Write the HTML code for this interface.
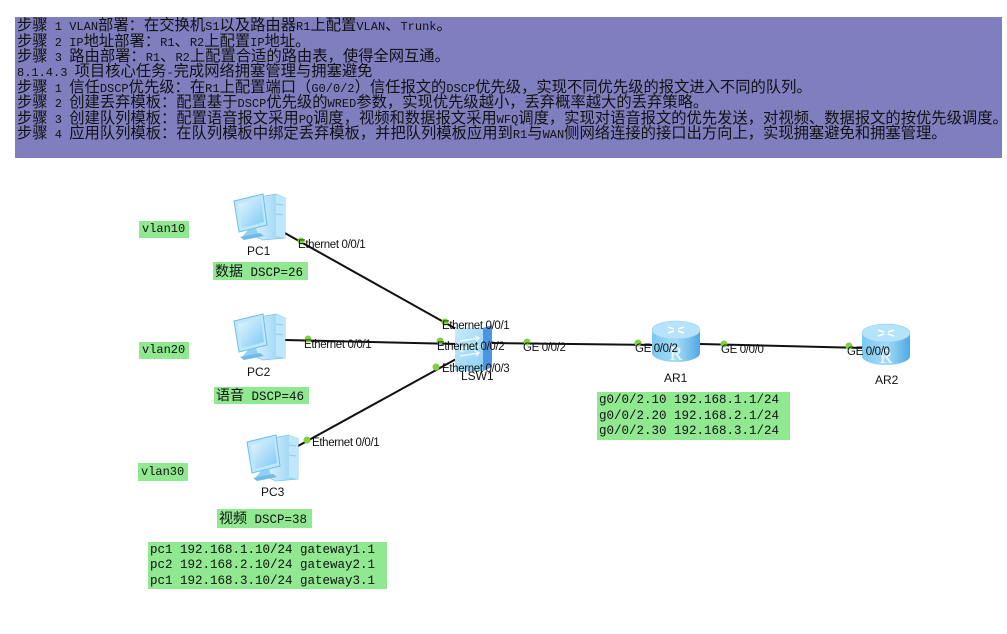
<!DOCTYPE html>
<html>
<head>
<meta charset="utf-8">
<style>
  html,body{margin:0;padding:0;background:#fff;}
  body{width:1007px;height:634px;position:relative;overflow:hidden;font-family:"Liberation Sans","Noto Sans CJK SC",sans-serif;}
  .hdr{position:absolute;left:15px;top:17px;width:987px;height:141px;background:#7f7fbf;}
  .htxt{position:absolute;left:17px;top:18.3px;font-family:"Liberation Sans","Noto Sans CJK SC",sans-serif;font-size:15.3px;color:#111;white-space:nowrap;}
  .htxt div{height:15.4px;line-height:15.4px;overflow:visible;}
  .htxt .l{font-family:"Liberation Mono",monospace;font-size:12px;line-height:15.4px;}
  .g{position:absolute;background:#90e890;font-family:"Liberation Mono",monospace;color:#111;white-space:nowrap;}
  .lbl{position:absolute;font-family:"Liberation Sans",sans-serif;font-size:11.5px;letter-spacing:-0.35px;color:#111;white-space:nowrap;line-height:12px;}
  .dev{position:absolute;font-family:"Liberation Sans",sans-serif;font-size:12px;color:#111;white-space:nowrap;line-height:13px;}
  .cj{font-family:"Liberation Sans","Noto Sans CJK SC",sans-serif;font-size:14px;}
</style>
</head>
<body>
<div class="hdr"></div>
<div class="htxt">
<div>步骤<span class="l"> 1 VLAN</span>部署：在交换机<span class="l">S1</span>以及路由器<span class="l">R1</span>上配置<span class="l">VLAN</span>、<span class="l">Trunk</span>。</div>
<div>步骤<span class="l"> 2 IP</span>地址部署：<span class="l">R1</span>、<span class="l">R2</span>上配置<span class="l">IP</span>地址。</div>
<div>步骤<span class="l"> 3 </span>路由部署：<span class="l">R1</span>、<span class="l">R2</span>上配置合适的路由表，使得全网互通。</div>
<div><span class="l">8.1.4.3 </span>项目核心任务<span class="l">-</span>完成网络拥塞管理与拥塞避免</div>
<div>步骤<span class="l"> 1 </span>信任<span class="l">DSCP</span>优先级：在<span class="l">R1</span>上配置端口（<span class="l">G0/0/2</span>）信任报文的<span class="l">DSCP</span>优先级，实现不同优先级的报文进入不同的队列。</div>
<div>步骤<span class="l"> 2 </span>创建丢弃模板：配置基于<span class="l">DSCP</span>优先级的<span class="l">WRED</span>参数，实现优先级越小，丢弃概率越大的丢弃策略。</div>
<div>步骤<span class="l"> 3 </span>创建队列模板：配置语音报文采用<span class="l">PQ</span>调度，视频和数据报文采用<span class="l">WFQ</span>调度，实现对语音报文的优先发送，对视频、数据报文的按优先级调度。</div>
<div>步骤<span class="l"> 4 </span>应用队列模板：在队列模板中绑定丢弃模板，并把队列模板应用到<span class="l">R1</span>与<span class="l">WAN</span>侧网络连接的接口出方向上，实现拥塞避免和拥塞管理。</div>
</div>

<svg width="1007" height="634" style="position:absolute;left:0;top:0" xmlns="http://www.w3.org/2000/svg">
  <defs>
    <linearGradient id="scr" x1="0" y1="0" x2="1" y2="1">
      <stop offset="0" stop-color="#e6f7ff"/>
      <stop offset="1" stop-color="#7cc9f2"/>
    </linearGradient>
    <linearGradient id="tow" x1="0" y1="0" x2="1" y2="0">
      <stop offset="0" stop-color="#d8f1fd"/>
      <stop offset="1" stop-color="#8fd0f3"/>
    </linearGradient>
    <linearGradient id="rb" x1="0" y1="0" x2="1" y2="0">
      <stop offset="0" stop-color="#7cc8f0"/>
      <stop offset="0.5" stop-color="#a6dcf7"/>
      <stop offset="1" stop-color="#4fa9e4"/>
    </linearGradient>
    <linearGradient id="sw" x1="0" y1="0" x2="1" y2="1">
      <stop offset="0" stop-color="#c9ecfc"/>
      <stop offset="1" stop-color="#86cdf2"/>
    </linearGradient>
    <g id="pc">
      <path d="M22 6 L44 2 L53 6 L53 46 L31 48 L22 44 Z" fill="url(#tow)" stroke="#7fc3ea" stroke-width="0.8"/>
      <path d="M44 2 L53 6 L53 46 L44 44 Z" fill="#bfe6fb"/>
      <line x1="44" y1="12" x2="51" y2="13" stroke="#8cc9ec" stroke-width="1"/>
      <line x1="44" y1="22" x2="51" y2="23" stroke="#8cc9ec" stroke-width="1"/>
      <path d="M2 9 L31 2 L35 33 L7 40 Z" fill="#bfe7fb" stroke="#6fbde9" stroke-width="1"/>
      <path d="M6 12 L29 6 L32 30 L10 36 Z" fill="url(#scr)"/>
      <path d="M16 38 L24 36 L26 42 L14 46 L10 45 Z" fill="#8fd0f3"/>
      <path d="M8 45 L28 41 L32 44 L12 48 Z" fill="#6dbbe8"/>
    </g>
    <g id="rt">
      <path d="M0 10 L0 33 A24 9 0 0 0 48 33 L48 10 Z" fill="url(#rb)"/>
      <ellipse cx="24" cy="10" rx="24" ry="9" fill="#b5e3f9" stroke="#8fd0f3" stroke-width="0.6"/>
      <g stroke="#fff" stroke-width="1.6" fill="none">
        <line x1="16" y1="7" x2="22" y2="9"/><line x1="26" y1="11" x2="32" y2="13"/>
        <line x1="32" y1="7" x2="26" y2="9"/><line x1="22" y1="11" x2="16" y2="13"/>
      </g>
      <text x="24" y="40" font-family="Liberation Serif,serif" font-size="20" fill="#fff" text-anchor="middle" opacity="0.85">R</text>
    </g>
  </defs>

  <g stroke="#111" stroke-width="2" fill="none">
    <line x1="283" y1="232" x2="458" y2="330"/>
    <line x1="285" y1="340" x2="458" y2="344"/>
    <line x1="298" y1="446" x2="458" y2="358"/>
    <line x1="492" y1="343" x2="652" y2="345"/>
    <line x1="700" y1="344" x2="864" y2="348"/>
  </g>

  <use href="#pc" x="232" y="192"/>
  <use href="#pc" x="232" y="312"/>
  <use href="#pc" x="245" y="433"/>

  <g transform="translate(455,325)">
    <path d="M0 3 L28 3 L37 0 L37 42 L28 46 L0 46 Z" fill="url(#sw)"/>
    <path d="M28 3 L37 0 L37 42 L28 46 Z" fill="#4c95e2"/>
    <g stroke="#fff" stroke-width="1.3" fill="none" opacity="0.9">
      <path d="M5 16 L24 13 M20 11 L24 13 L21 16"/>
      <path d="M24 21 L5 24 M9 22 L5 24 L8 27"/>
      <path d="M5 31 L24 28 M20 26 L24 28 L21 31"/>
    </g>
  </g>

  <use href="#rt" x="652" y="320"/>
  <use href="#rt" x="862" y="323"/>

  <g fill="#80d040">
    <circle cx="301" cy="241" r="3.5"/>
    <circle cx="445" cy="322" r="3.5"/>
    <circle cx="308" cy="339" r="3.5"/>
    <circle cx="440" cy="341" r="3.5"/>
    <circle cx="307" cy="440" r="3.5"/>
    <circle cx="436" cy="367" r="3.5"/>
    <circle cx="527" cy="342" r="3.5"/>
    <circle cx="638" cy="343" r="3.5"/>
    <circle cx="724" cy="344" r="3.5"/>
    <circle cx="849" cy="346" r="3.5"/>
  </g>
</svg>

<div class="lbl" style="left:298px;top:239px;">Ethernet 0/0/1</div>
<div class="lbl" style="left:442px;top:320px;">Ethernet 0/0/1</div>
<div class="lbl" style="left:304px;top:339px;">Ethernet 0/0/1</div>
<div class="lbl" style="left:437px;top:341px;">Ethernet 0/0/2</div>
<div class="lbl" style="left:442px;top:363px;">Ethernet 0/0/3</div>
<div class="lbl" style="left:312px;top:437px;">Ethernet 0/0/1</div>
<div class="lbl" style="left:523px;top:342px;">GE 0/0/2</div>
<div class="lbl" style="left:635px;top:343px;">GE 0/0/2</div>
<div class="lbl" style="left:721px;top:344px;">GE 0/0/0</div>
<div class="lbl" style="left:847px;top:346px;">GE 0/0/0</div>

<div class="dev" style="left:247px;top:245px;">PC1</div>
<div class="dev" style="left:247px;top:366px;">PC2</div>
<div class="dev" style="left:261px;top:486px;">PC3</div>
<div class="dev" style="left:461px;top:370px;">LSW1</div>
<div class="dev" style="left:664px;top:372px;">AR1</div>
<div class="dev" style="left:875px;top:374px;">AR2</div>

<div class="g" style="left:139px;top:221px;width:50px;height:17px;font-size:12px;line-height:17px;padding-left:3px;box-sizing:border-box;">vlan10</div>
<div class="g" style="left:139px;top:342px;width:50px;height:17px;font-size:12px;line-height:17px;padding-left:3px;box-sizing:border-box;">vlan20</div>
<div class="g" style="left:138px;top:463px;width:50px;height:18px;font-size:12px;line-height:18px;padding-left:3px;box-sizing:border-box;">vlan30</div>

<div class="g" style="left:213px;top:262px;width:95px;height:18px;font-size:12.5px;line-height:18px;padding-left:2px;box-sizing:border-box;"><span class="cj">数据</span> DSCP=26</div>
<div class="g" style="left:214px;top:387px;width:95px;height:17px;font-size:12.5px;line-height:17px;padding-left:2px;box-sizing:border-box;"><span class="cj">语音</span> DSCP=46</div>
<div class="g" style="left:217px;top:509px;width:95px;height:19px;font-size:12.5px;line-height:19px;padding-left:2px;box-sizing:border-box;"><span class="cj">视频</span> DSCP=38</div>

<div class="g" style="left:148px;top:542px;width:239px;height:47px;font-size:12.5px;line-height:15.3px;padding:1px 0 0 2px;box-sizing:border-box;">pc1 192.168.1.10/24 gateway1.1<br>pc2 192.168.2.10/24 gateway2.1<br>pc1 192.168.3.10/24 gateway3.1</div>

<div class="g" style="left:597px;top:392px;width:193px;height:48px;font-size:12.5px;line-height:15.5px;padding:1px 0 0 2px;box-sizing:border-box;">g0/0/2.10 192.168.1.1/24<br>g0/0/2.20 192.168.2.1/24<br>g0/0/2.30 192.168.3.1/24</div>

</body>
</html>
